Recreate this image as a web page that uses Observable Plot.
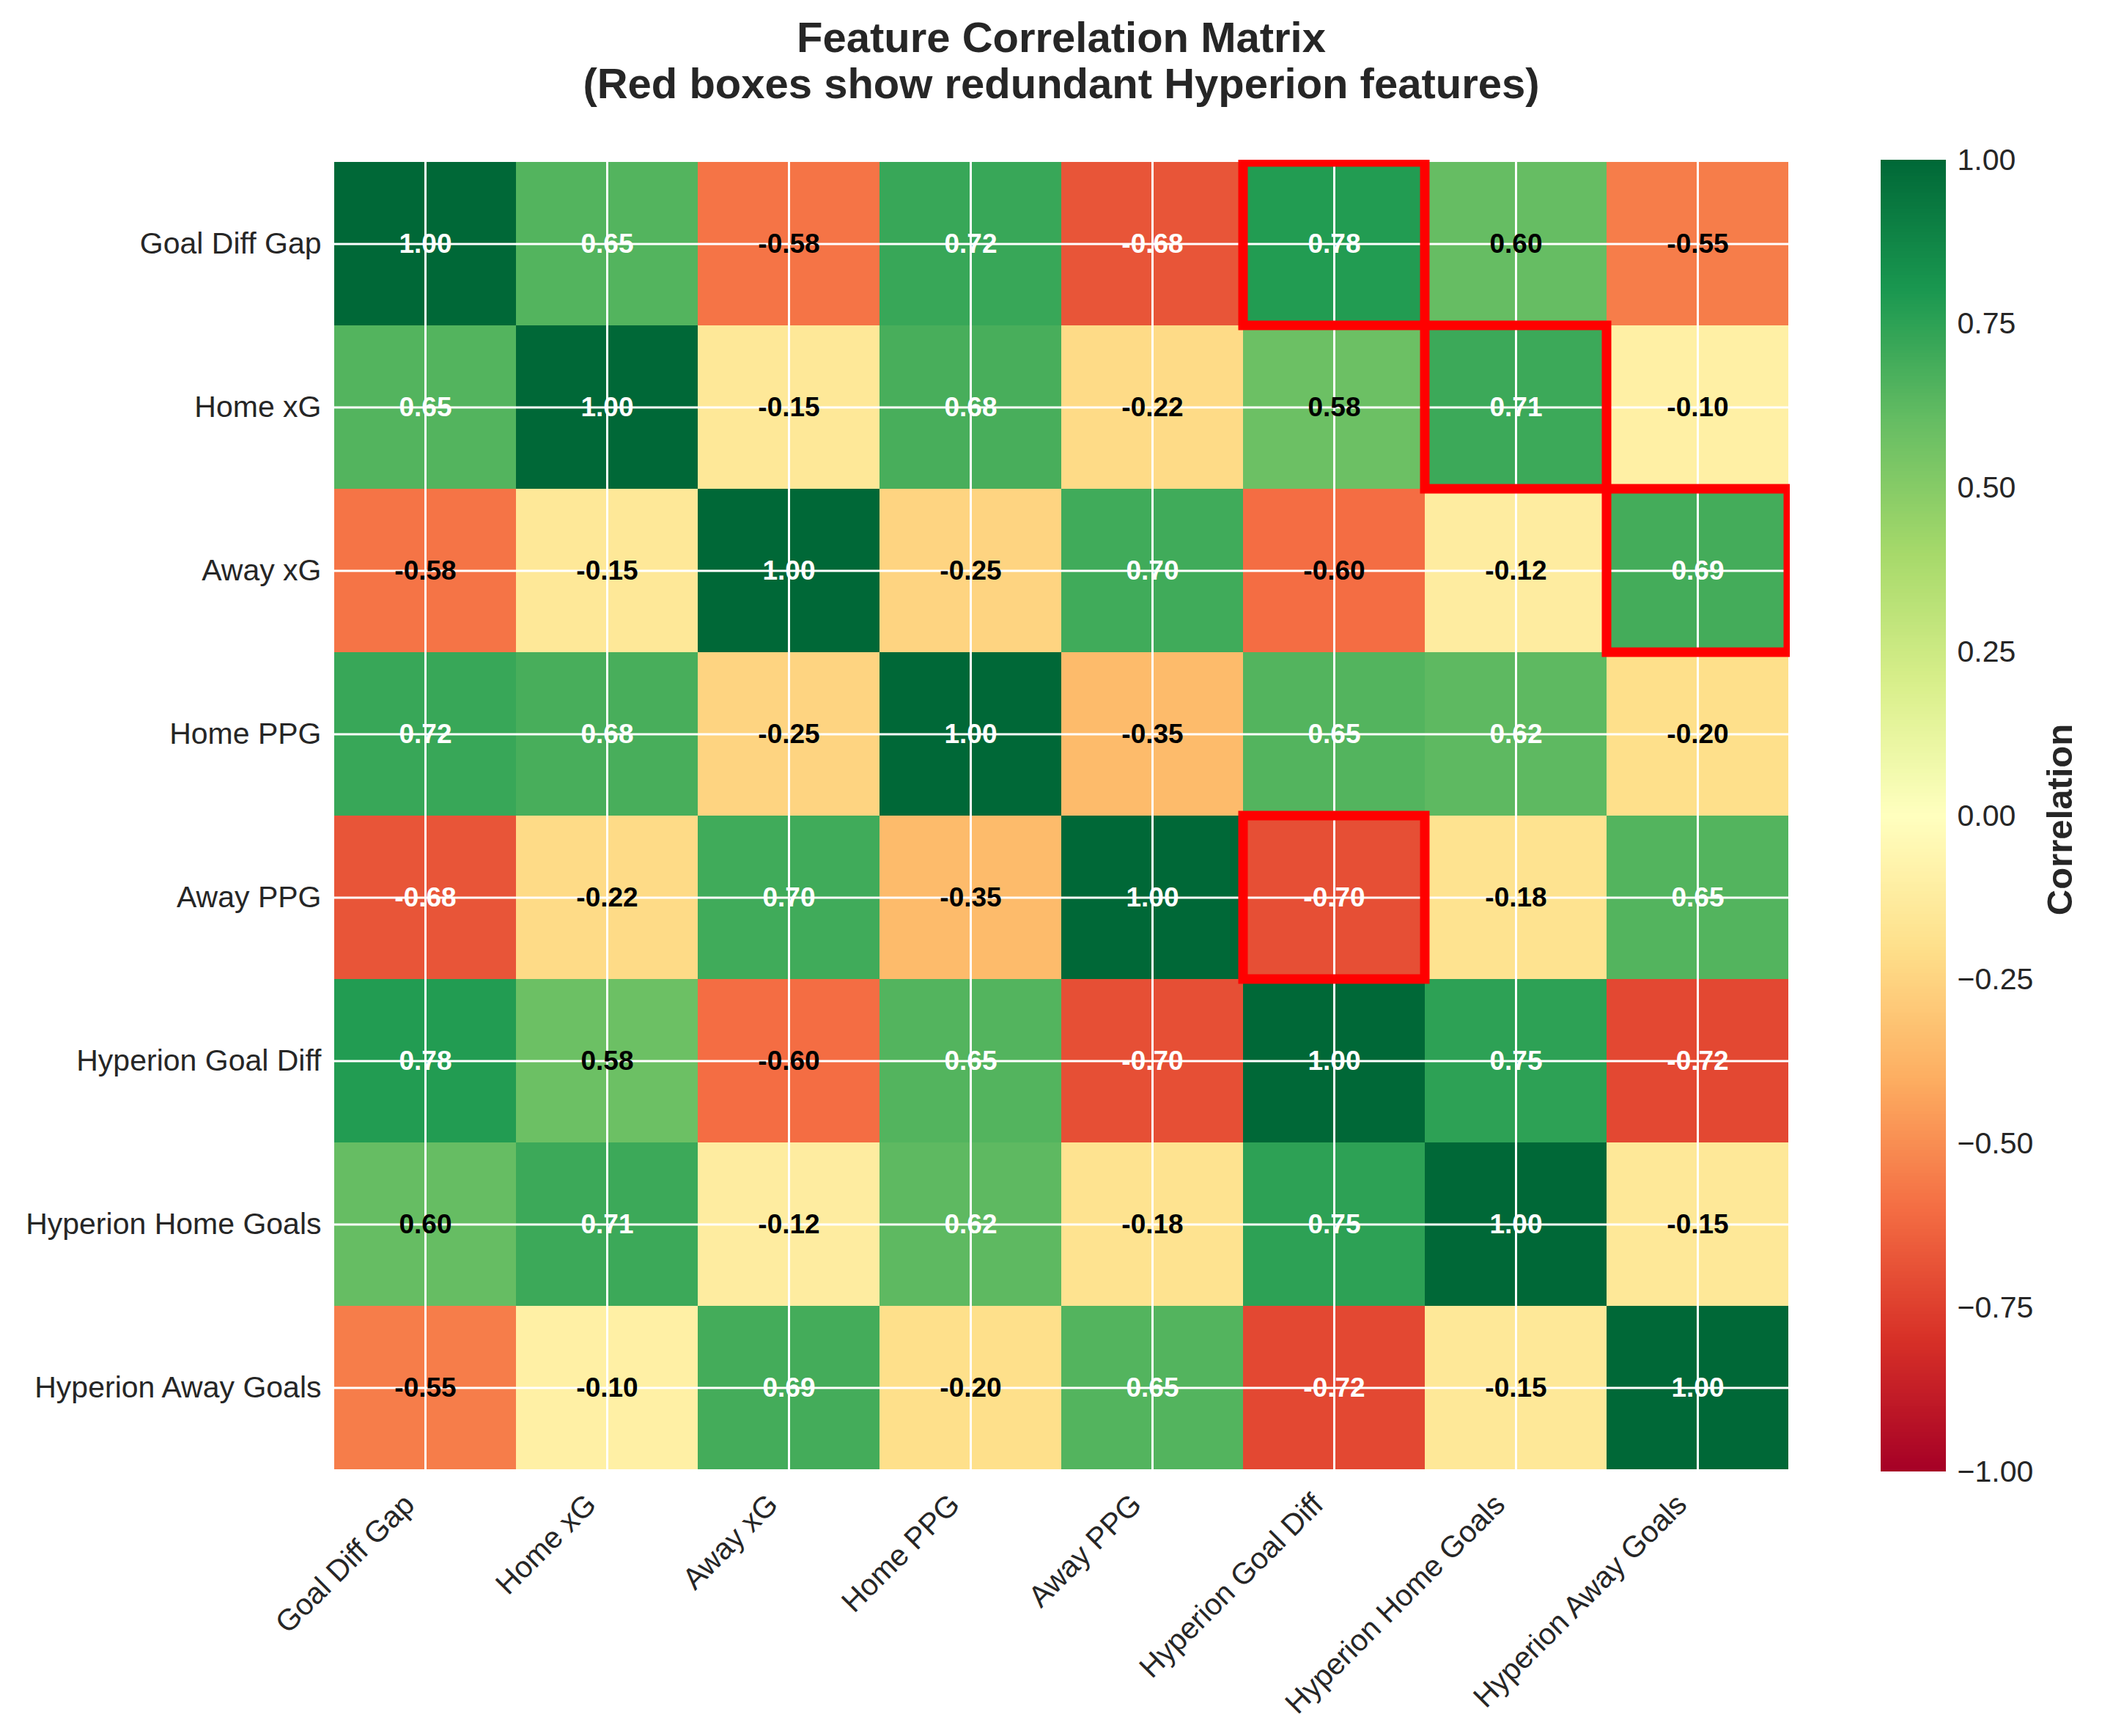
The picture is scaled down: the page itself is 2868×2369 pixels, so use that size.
<!DOCTYPE html>
<html><head><meta charset="utf-8">
<script src="https://cdn.jsdelivr.net/npm/d3@7"></script>
<script src="https://cdn.jsdelivr.net/npm/@observablehq/plot@0.6"></script>
<style>
body{margin:0;background:#fff;}
#wrap{position:relative;width:2868px;height:2369px;font-family:"Liberation Sans",Arial,sans-serif;color:#262626;}
#title{position:absolute;left:0;top:19px;width:2896px;text-align:center;font-weight:bold;font-size:58px;line-height:63px;}
#main{position:absolute;left:0;top:0;}
#cbar{position:absolute;left:2566px;top:0;}
</style></head>
<body>
<div id="wrap">
  <div id="title"><div>Feature Correlation Matrix</div><div>(Red boxes show redundant Hyperion features)</div></div>
  <div id="main"></div>
  <div id="cbar"></div>
</div>
<script>
const features = ["Goal Diff Gap","Home xG","Away xG","Home PPG","Away PPG","Hyperion Goal Diff","Hyperion Home Goals","Hyperion Away Goals"];
const correlations = [
  [ 1.00,  0.65, -0.58,  0.72, -0.68,  0.78,  0.60, -0.55],
  [ 0.65,  1.00, -0.15,  0.68, -0.22,  0.58,  0.71, -0.10],
  [-0.58, -0.15,  1.00, -0.25,  0.70, -0.60, -0.12,  0.69],
  [ 0.72,  0.68, -0.25,  1.00, -0.35,  0.65,  0.62, -0.20],
  [-0.68, -0.22,  0.70, -0.35,  1.00, -0.70, -0.18,  0.65],
  [ 0.78,  0.58, -0.60,  0.65, -0.70,  1.00,  0.75, -0.72],
  [ 0.60,  0.71, -0.12,  0.62, -0.18,  0.75,  1.00, -0.15],
  [-0.55, -0.10,  0.69, -0.20,  0.65, -0.72, -0.15,  1.00]
];
// [row feature, column feature]
const redBoxes = [
  ["Goal Diff Gap","Hyperion Goal Diff"],
  ["Home xG","Hyperion Home Goals"],
  ["Away xG","Hyperion Away Goals"],
  ["Away PPG","Hyperion Goal Diff"]
];
const colorbarTicks = [-1,-0.75,-0.5,-0.25,0,0.25,0.5,0.75,1];

const FONT = '"Liberation Sans", Arial, sans-serif';
const TXT = "#262626";
const rdYlGn = ["#a50026","#d73027","#f46d43","#fdae61","#fee08b","#ffffbf","#d9ef8b","#a6d96a","#66bd63","#1a9850","#006837"];
const colorScale = () => ({type:"linear", domain: rdYlGn.map((c,i)=>-1+i*0.2), range: rdYlGn, interpolate:"rgb", clamp:true});

const cells = [];
features.forEach((r,i)=>features.forEach((c,j)=>cells.push({row:r, col:c, value:correlations[i][j]})));
const boxes = redBoxes.map(([r,c])=>({row:r, col:c}));

const main = Plot.plot({
  width: 2868, height: 2369,
  marginLeft: 453, marginRight: 426, marginTop: 218, marginBottom: 361,
  style: {fontFamily: FONT, color: TXT, background: "transparent", overflow: "visible"},
  x: {domain: features, padding: 0, axis: null},
  y: {domain: features, padding: 0},
  color: colorScale(),
  marks: [
    Plot.cell(cells, {x:"col", y:"row", fill:"value"}),
    Plot.gridX({stroke:"white", strokeOpacity:1, strokeWidth:3}),
    Plot.gridY({stroke:"white", strokeOpacity:1, strokeWidth:3}),
    Plot.axisY({tickSize:0, tickPadding:15, fontSize:41, label:null, fill:TXT}),
    Plot.text(cells.filter(d=>Math.abs(d.value)>0.6), {x:"col", y:"row", text:d=>d.value.toFixed(2), fill:"white", fontWeight:"bold", fontSize:37}),
    Plot.text(cells.filter(d=>Math.abs(d.value)<=0.6), {x:"col", y:"row", text:d=>d.value.toFixed(2), fill:"black", fontWeight:"bold", fontSize:37}),
    Plot.cell(boxes, {x:"col", y:"row", fill:"none", stroke:"red", strokeWidth:13, clip:true}),
    Plot.text(features, {x:d=>d, text:d=>d, frameAnchor:"bottom", rotate:-45, textAnchor:"end", lineAnchor:"middle", dx:-22, dy:38, fontSize:41, fill:TXT})
  ]
});
document.getElementById("main").appendChild(main);

const steps = d3.range(400).map(i => -1 + i*0.005);
const cbar = Plot.plot({
  width: 302, height: 2369,
  marginLeft: 0, marginRight: 213, marginTop: 218, marginBottom: 361,
  style: {fontFamily: FONT, color: TXT, background: "transparent", overflow: "visible"},
  x: {domain:[0,1], axis:null},
  y: {domain:[-1,1]},
  color: colorScale(),
  marks: [
    Plot.rect(steps, {x1:()=>0, x2:()=>1, y1:d=>d, y2:d=>d+0.0051, fill:d=>d+0.0025, shapeRendering:"crispEdges"}),
    Plot.axisY({anchor:"right", ticks:colorbarTicks, tickFormat:d3.format(".2f"), tickSize:0, tickPadding:15, fontSize:41, label:null, fill:TXT}),
    Plot.text(["Correlation"], {text:d=>d, frameAnchor:"right", rotate:-90, textAnchor:"middle", lineAnchor:"middle", dx:156, dy:5, fontSize:49, fontWeight:"bold", fill:TXT})
  ]
});
document.getElementById("cbar").appendChild(cbar);
</script>
</body></html>
